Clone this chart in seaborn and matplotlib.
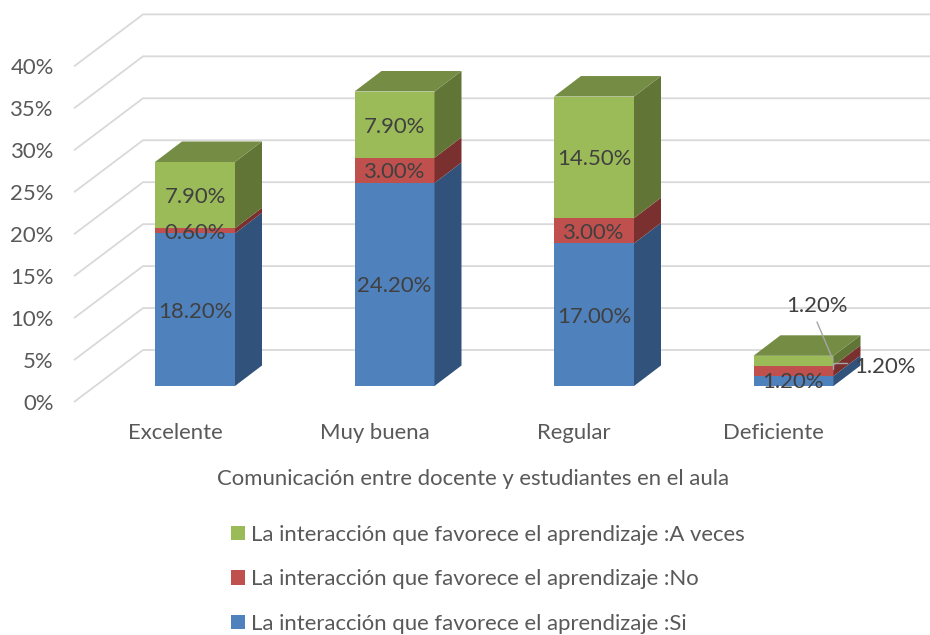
import numpy as np
import pandas as pd
import seaborn as sns
import matplotlib
matplotlib.use("Agg")
import matplotlib.pyplot as plt

categories = ["Excelente", "Muy buena", "Regular", "Deficiente"]
si = [18.2, 24.2, 17.0, 1.2]
no = [0.6, 3.0, 3.0, 1.2]
a_veces = [7.9, 7.9, 14.5, 1.2]
series_names = ["La interacción que favorece el aprendizaje :Si",
                "La interacción que favorece el aprendizaje :No",
                "La interacción que favorece el aprendizaje :A veces"]
y_ticks = [0, 5, 10, 15, 20, 25, 30, 35, 40]
x_title = "Comunicación entre docente y estudiantes en el aula"

front = ["#4F81BD", "#C0504D", "#9BBB59"]
side = ["#31527B", "#7A302E", "#617537"]
top_col = "#748C43"

sns.set_theme(style="white")
plt.rcParams["font.family"] = ["Lato", "DejaVu Sans"]

W, H = 930, 635
FS = 15.9
fig = plt.figure(figsize=(W / 100, H / 100), dpi=100)
L, R, T, B = 74, 930, 0, 402
rect = [L / W, 1 - B / H, (R - L) / W, (B - T) / H]
PXX, PXY = 199.5, 8.39

# wall axes: gridlines, tick labels
wall = fig.add_axes(rect, label="wall")
wall.set_xlim((L - 175) / PXX, (R - 175) / PXX)
wall.set_ylim(0, (B - T) / PXY)
ddx, ddy = 69 / PXX, 52 / PXY
x0 = wall.get_xlim()[0]
x1 = wall.get_xlim()[1]
for v in y_ticks:
    wall.plot([x0, x0 + ddx, x1], [v, v + ddy, v + ddy], color="#D9D9D9", lw=1.3,
              clip_on=False, solid_capstyle="butt", solid_joinstyle="miter")
wall.set_yticks(y_ticks, [f"{v}%" for v in y_ticks])
wall.set_xticks(range(len(categories)), categories)
wall.tick_params(axis="both", length=0, labelsize=FS, labelcolor="#595959")
wall.tick_params(axis="y", pad=14.5)
wall.tick_params(axis="x", pad=15)
wall.set_xlabel(x_title, fontsize=FS, color="#595959")
wall.xaxis.set_label_coords((473 - L) / (R - L), (B - 479) / (B - T))
wall.xaxis.label.set_verticalalignment("center")
sns.despine(ax=wall, left=True, bottom=True)
wall.patch.set_alpha(0)

# bars axes: same rectangle, shifted by the perspective of the bars
ax = fig.add_axes(rect, label="bars")
df = pd.DataFrame({"cat": categories, "si": si, "no": no, "av": a_veces})
bottoms = [np.zeros(4), np.array(si), np.array(si) + np.array(no)]
cols = ["si", "no", "av"]
BW = 80 / PXX
for c, b, col, name in zip(cols, bottoms, front, series_names):
    sns.barplot(data=df, x="cat", y=c, bottom=b, color=col, saturation=1, linewidth=0,
                width=BW, errorbar=None, ax=ax, label=name, zorder=3, legend=False)
ax.set_xlim((L - 195) / PXX, (R - 195) / PXX)
ax.set_ylim(-(B - 386) / PXY, (386 - T) / PXY)
ax.set_axis_off()
dx, dy = 27 / PXX, 20.5 / PXY
for i in range(4):
    xr = i + BW / 2
    xl = i - BW / 2
    for j, c in enumerate(cols):
        lo = bottoms[j][i]
        hi = lo + df[c][i]
        ax.fill([xr, xr + dx, xr + dx, xr], [lo, lo + dy, hi + dy, hi],
                color=side[j], lw=0, zorder=3)
        if not (categories[i] == "Deficiente"):
            ax.text(i, (lo + hi) / 2, f"{df[c][i]:.2f}%", ha="center", va="center_baseline",
                    fontsize=FS, color="#404040", zorder=5)
    ax.fill([xl, xr, xr + dx, xl + dx], [hi, hi, hi + dy, hi + dy],
            color=top_col, lw=0, zorder=3)

# Deficiente labels sit around the thin stack, with leader lines
def px(x, y):
    return (x - 195) / PXX, (386 - y) / PXY

for (x, y), v in zip([(793, 380), (885, 365), (817, 304)], [si[3], no[3], a_veces[3]]):
    ax.text(*px(x, y), f"{v:.2f}%", ha="center", va="center_baseline", fontsize=FS,
            color="#404040", zorder=6)
leaders = [[(817, 322), (833, 360)], [(847, 363), (833, 363), (833, 369)]]
for pts in leaders:
    xy = np.array([px(*p) for p in pts])
    ax.plot(xy[:, 0], xy[:, 1], color="#A6A6A6", lw=1.0, zorder=5)

h, l = ax.get_legend_handles_labels()
ax.legend(h[::-1], l[::-1], loc="upper left", frameon=False, fontsize=FS,
          bbox_to_anchor=(231 / W, 1 - 525 / H), bbox_transform=fig.transFigure,
          borderpad=0, borderaxespad=0, handlelength=0.63, handleheight=0.63,
          handletextpad=0.27, labelspacing=1.1, labelcolor="#595959")

fig.savefig("out.png", dpi=100)
